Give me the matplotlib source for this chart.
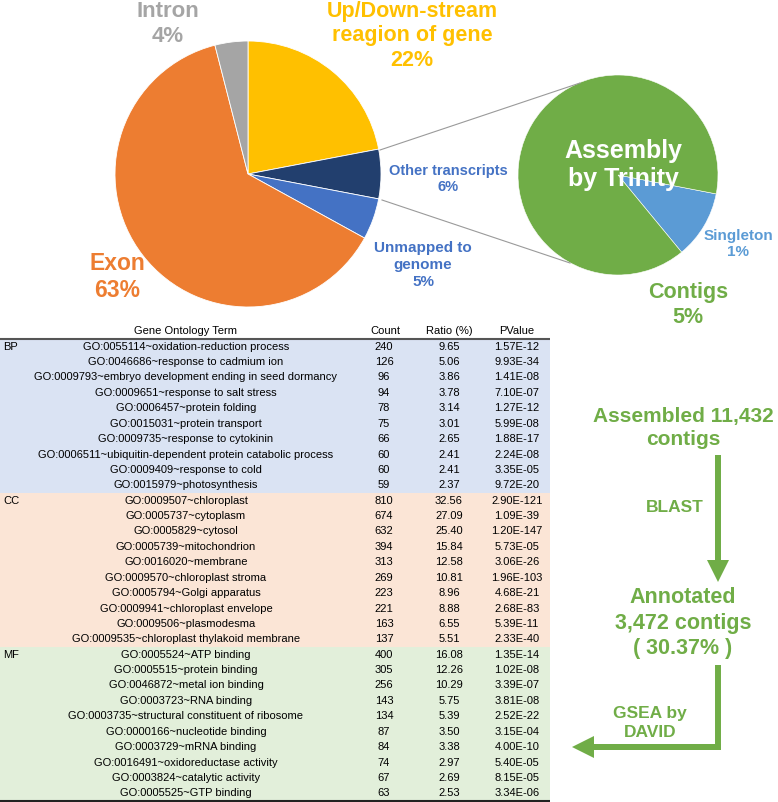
import numpy as np
import matplotlib.pyplot as plt
from matplotlib.patches import Rectangle

plt.rcParams['font.family'] = ['Liberation Sans', 'DejaVu Sans']

# figure size in pixels, everything below is placed in pixel units (y from top)
W = 778
H = 802

def fy(y):
    return H - y

# main pie: mapping of reads
main_labels = ['Up/Down-stream\nreagion of gene\n22%', 'Other transcripts\n6%',
               'Unmapped to\ngenome\n5%', 'Exon\n63%', 'Intron\n4%']
main_sizes = [22, 6, 5, 63, 4]
main_colors = ['#FFC000', '#223F6E', '#4472C4', '#ED7D31', '#A5A5A5']

# small pie: unmapped reads assembled by Trinity (wedge sizes as drawn)
small_labels = ['Singleton\n1%', 'Contigs\n5%']
small_sizes = [11, 89]
small_colors = ['#5B9BD5', '#70AD47']

# GO enrichment table
categories = ['BP', 'CC', 'MF']
go_terms = [
    'GO:0055114~oxidation-reduction process',
    'GO:0046686~response to cadmium ion',
    'GO:0009793~embryo development ending in seed dormancy',
    'GO:0009651~response to salt stress',
    'GO:0006457~protein folding',
    'GO:0015031~protein transport',
    'GO:0009735~response to cytokinin',
    'GO:0006511~ubiquitin-dependent protein catabolic process',
    'GO:0009409~response to cold',
    'GO:0015979~photosynthesis',
    'GO:0009507~chloroplast',
    'GO:0005737~cytoplasm',
    'GO:0005829~cytosol',
    'GO:0005739~mitochondrion',
    'GO:0016020~membrane',
    'GO:0009570~chloroplast stroma',
    'GO:0005794~Golgi apparatus',
    'GO:0009941~chloroplast envelope',
    'GO:0009506~plasmodesma',
    'GO:0009535~chloroplast thylakoid membrane',
    'GO:0005524~ATP binding',
    'GO:0005515~protein binding',
    'GO:0046872~metal ion binding',
    'GO:0003723~RNA binding',
    'GO:0003735~structural constituent of ribosome',
    'GO:0000166~nucleotide binding',
    'GO:0003729~mRNA binding',
    'GO:0016491~oxidoreductase activity',
    'GO:0003824~catalytic activity',
    'GO:0005525~GTP binding',
]
counts = [240, 126, 96, 94, 78, 75, 66, 60, 60, 59,
          810, 674, 632, 394, 313, 269, 223, 221, 163, 137,
          400, 305, 256, 143, 134, 87, 84, 74, 67, 63]
ratios = ['9.65', '5.06', '3.86', '3.78', '3.14', '3.01', '2.65', '2.41', '2.41', '2.37',
          '32.56', '27.09', '25.40', '15.84', '12.58', '10.81', '8.96', '8.88', '6.55', '5.51',
          '16.08', '12.26', '10.29', '5.75', '5.39', '3.50', '3.38', '2.97', '2.69', '2.53']
pvalues = ['1.57E-12', '9.93E-34', '1.41E-08', '7.10E-07', '1.27E-12',
           '5.99E-08', '1.88E-17', '2.24E-08', '3.35E-05', '9.72E-20',
           '2.90E-121', '1.09E-39', '1.20E-147', '5.73E-05', '3.06E-26',
           '1.96E-103', '4.68E-21', '2.68E-83', '5.39E-11', '2.33E-40',
           '1.35E-14', '1.02E-08', '3.39E-07', '3.81E-08', '2.52E-22',
           '3.15E-04', '4.00E-10', '5.40E-05', '8.15E-05', '3.34E-06']
block_colors = ['#DAE3F3', '#FBE5D6', '#E2EFDA']

green = '#70AD47'


fig = plt.figure(figsize=(W / 100, H / 100), dpi=100)
ax = fig.add_axes([0, 0, 1, 1])


# main pie
ax.pie(main_sizes, colors=main_colors, startangle=90, counterclock=False,
       center=(248, fy(174)), radius=133,
       wedgeprops=dict(edgecolor='white', linewidth=0.6))

# small pie
ax.pie(small_sizes, colors=small_colors, startangle=-10.9, counterclock=False,
       center=(618, fy(175)), radius=100,
       wedgeprops=dict(edgecolor='white', linewidth=0.4))

# connector lines between the two pies
ax.plot([380, 580], [fy(150), fy(83)], color='#9A9A9A', lw=0.8)
ax.plot([382, 570], [fy(200), fy(263)], color='#9A9A9A', lw=0.8)

# pie labels
pie_text = dict(ha='center', va='center', fontweight='bold', linespacing=1.24)
ax.text(412, fy(36), main_labels[0], color='#FFC000', fontsize=15.5, **pie_text)
ax.text(448, fy(179), main_labels[1], color='#4472C4', fontsize=10.5, **pie_text)
ax.text(423, fy(265), main_labels[2], color='#4472C4', fontsize=11, **pie_text)
ax.text(117, fy(277), main_labels[3], color='#ED7D31', fontsize=16.5, **pie_text)
ax.text(168, fy(24), main_labels[4], color='#A5A5A5', fontsize=16, **pie_text)

ax.text(623, fy(165), 'Assembly\nby Trinity', color='white', fontsize=18, **pie_text)
ax.text(738, fy(244), small_labels[0], color='#5B9BD5', fontsize=11, **pie_text)
ax.text(688, fy(305), small_labels[1], color=green, fontsize=15.5, **pie_text)


# table
top = 339
row_h = (801 - top) / len(go_terms)
fs = 8
for b in range(len(categories)):
    y0 = top + b * 10 * row_h
    ax.add_patch(Rectangle((0, fy(y0 + 10 * row_h)), 550, 10 * row_h,
                           facecolor=block_colors[b], edgecolor='none'))
    ax.text(3, fy(y0 + row_h / 2), categories[b], fontsize=fs, ha='left', va='center')

head_y = 331
ax.text(186, fy(head_y), 'Gene Ontology Term', fontsize=fs, ha='center', va='center')
ax.text(385, fy(head_y), 'Count', fontsize=fs, ha='center', va='center')
ax.text(449, fy(head_y), 'Ratio (%)', fontsize=fs, ha='center', va='center')
ax.text(517, fy(head_y), 'PValue', fontsize=fs, ha='center', va='center')

for i in range(len(go_terms)):
    yc = fy(top + (i + 0.5) * row_h)
    ax.text(186, yc, go_terms[i], fontsize=fs, ha='center', va='center')
    ax.text(384, yc, str(counts[i]), fontsize=fs, ha='center', va='center')
    ax.text(449, yc, ratios[i], fontsize=fs, ha='center', va='center')
    ax.text(517, yc, pvalues[i], fontsize=fs, ha='center', va='center')

ax.plot([0, 550], [fy(top), fy(top)], color='#555555', lw=1.5, solid_capstyle='butt')
ax.plot([0, 550], [fy(801), fy(801)], color='#222222', lw=1.5, solid_capstyle='butt')


# flow chart on the right
flow = dict(ha='center', va='center', fontweight='bold', color=green, linespacing=1.28)
ax.text(683, fy(428), 'Assembled 11,432\ncontigs', fontsize=15, **flow)
ax.text(675, fy(508), 'BLAST', fontsize=12.5, **flow)
ax.text(683, fy(623), 'Annotated\n3,472 contigs\n( 30.37% )', fontsize=15.5, **flow)
ax.text(650, fy(723), 'GSEA by\nDAVID', fontsize=12.5, **flow)

ax.arrow(718, fy(455), 0, -(582 - 455), width=6, head_width=22, head_length=22,
         length_includes_head=True, color=green, lw=0)
ax.plot([718, 718], [fy(665), fy(747)], color=green, lw=4.3, solid_capstyle='butt')
ax.arrow(721, fy(747), 572 - 721, 0, width=6, head_width=22, head_length=22,
         length_includes_head=True, color=green, lw=0)


ax.set_xlim(0, W)
ax.set_ylim(0, H)
ax.set_aspect('auto')
ax.axis('off')

plt.savefig('out.png', dpi=100)
